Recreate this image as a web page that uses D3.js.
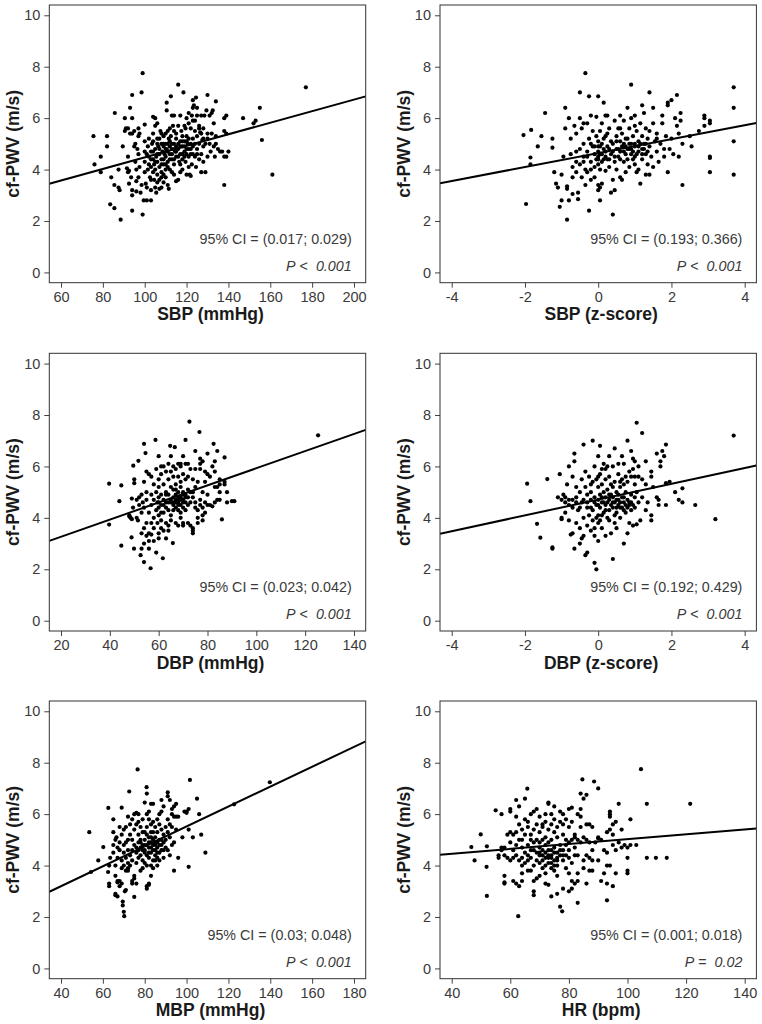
<!DOCTYPE html>
<html><head><meta charset="utf-8">
<script src="https://cdn.jsdelivr.net/npm/d3@7"></script>
<style>body{margin:0;background:#fff}svg{display:block}text{font-family:"Liberation Sans",Arial,sans-serif}</style>
</head><body><svg id="c" width="762" height="1024"></svg>
<script>
// ---------- data ----------
const yTicks = [0, 2, 4, 6, 8, 10];
const yLim = [0, 10];
const yTitle = "cf-PWV (m/s)";
const xTitles = ["SBP (mmHg)", "SBP (z-score)", "DBP (mmHg)", "DBP (z-score)", "MBP (mmHg)", "HR (bpm)"];
const xLims = [[60, 200], [-4, 4], [20, 140], [-4, 4], [40, 180], [40, 140]];
const sbpTicks = [60, 80, 100, 120, 140, 160, 180, 200];
const zTicks = [-4, -2, 0, 2, 4];
const dbpTicks = [20, 40, 60, 80, 100, 120, 140];
const mbpTicks = [40, 60, 80, 100, 120, 140, 160, 180];
const hrTicks = [40, 60, 80, 100, 120, 140];
const ciTexts = ["95% CI = (0.017; 0.029)", "95% CI = (0.193; 0.366)", "95% CI = (0.023; 0.042)",
                 "95% CI = (0.192; 0.429)", "95% CI = (0.03; 0.048)", "95% CI = (0.001; 0.018)"];
const pOps = ["<", "<", "<", "<", "<", "="];
const pValues = ["0.001", "0.001", "0.001", "0.001", "0.001", "0.02"];
const fitIntercepts = [2.229, 4.64, 2.60, 4.71, 1.65, 4.08];
const fitSlopes = [0.02246, 0.271, 0.0333, 0.307, 0.0387, 0.00946];

const sbpPoints = [[75.5,5.3],[76,4.2],[79,4.5],[79,3.9],[82,5.3],[82,4.9],[84,3.7],[83.5,2.65],[85.5,2.5],[85.7,6.2],[85.5,3.4],[87.5,3.3],[88,3.2],[87.5,4.0],[88.5,2.05],[89.5,4.9],[90.5,6.0],[90.5,5.5],[91,5.6],[92,5.6],[93,6.4],[94,6.9],[94,6.0],[91.5,4.05],[92,4.5],[92.5,3.45],[92.5,3.95],[92,3.9],[93.5,3.7],[94,3.2],[94,3.0],[94,2.4],[93,5.4],[94,5.4],
[95,5.5],[95.5,5.0],[95,4.9],[95.5,4.3],[96,3.55],[96,3.15],[96,4.0],[96.5,4.8],[97,5.3],[97,5.6],[97.5,5.4],[97,4.6],[97.5,4.1],[97,3.7],[98,3.1],[98.5,3.4],[98.5,7.0],[99,7.75],[99,2.25],[99.5,2.8],[100,5.75],[100,5.1],[100,4.7],[100,4.3],[100,3.9],[100.5,3.45],[101,2.8],[101,3.3],[101.5,4.0],[101.5,4.9],[102,5.2],[102,4.5],[102.5,3.7],[103,2.8],[103,3.2],[103,4.1],[103,4.4],[103.5,5.0],[104,6.05],[104,5.4],[104,4.7],[104.5,4.2],[104.5,3.6],[105,6.0],[105,5.7],[105,4.8],[105,4.0],[105,3.3],[105.5,3.1],[105.5,4.5],
[106,5.8],[106,5.2],[106,4.3],[106,3.8],[106.5,4.9],[107,4.6],[107,4.1],[107,3.6],[107,3.25],[107.5,5.5],[108,5.0],[108,4.4],[108,3.9],[108,3.7],[108.5,4.7],[109,5.3],[109,4.2],[109,3.8],[109,4.9],[109.5,4.6],[110,5.4],[110,5.0],[110,4.5],[110,4.0],[110,3.7],[110.5,6.6],[110.5,6.3],[110.5,4.8],[111,5.5],[111,4.7],[111,4.3],[111,3.4],[111.5,3.25],[111.5,5.2],[112,5.6],[112,4.9],[112,4.4],[112,4.0],[112.5,6.85],[112.5,5.3],[113,6.1],[113,4.8],[113,4.6],[113,3.9],[113.5,5.7],[114,6.1],[114,5.5],[114,5.0],[114,4.2],[114.5,4.7],[115,5.2],[115,3.55],[115,4.5],[115,5.4],
[116,7.3],[116,5.7],[116,5.0],[116,4.8],[116,3.6],[116.5,4.3],[117,5.1],[117,4.6],[117,6.1],[117.5,5.5],[118,4.9],[118,4.4],[118,4.0],[118,5.3],[118.5,7.0],[119,5.7],[119,5.1],[119,4.7],[119.5,5.6],[119.5,4.3],[120,6.0],[120,5.3],[120,4.8],[120,3.8],[120.5,5.0],[121,6.2],[121,5.8],[121,5.2],[121,4.5],[121.5,3.8],[122,5.6],[122,5.0],[122,4.6],[122,3.75],[122.5,6.1],[122.5,4.2],[123,6.4],[123,5.9],[123,5.2],[123,4.9],[123.5,6.5],[124,5.9],[124,4.5],[124,5.5],[124.5,4.1],[124.5,6.8],[125,6.1],[125,5.3],[125,4.8],
[126,5.6],[126,4.4],[126,5.7],[126.5,5.45],[127,5.4],[127,4.6],[127,3.9],[127.5,5.15],[128,5.6],[128,4.9],[128,4.3],[128.5,6.1],[129,5.0],[129,3.9],[129.5,6.3],[130,6.9],[130,5.4],[130,4.5],[131,6.1],[131,5.0],[131.5,4.7],[132,6.2],[132,5.4],[132.5,6.3],[133,5.8],[133,4.9],[133.5,4.5],[134,6.65],[134,5.3],[134,5.0],[135,4.8],[136,4.7],[137,4.7],[138,6.0],[138,5.5],[138,4.5],[138,3.4],[139,6.1],[139,5.4],[139,4.5],[140,4.7],
[147,6.0],[152,5.8],[153,5.9],[155,6.4],[156,5.15],[161,3.8],[177,7.2],
[101,4.6],[102,4.2],[103,4.7],[104,5.1],[104,4.4],[105,4.3],[106,4.6],[106,5.0],[107,4.8],[107,5.2],[108,4.2],[108,5.4],[109,4.4],[109,5.0],[110,4.2],[110,4.8],[111,5.0],[111,4.1],[112,4.6],[112,5.1],[113,4.4],[113,5.0],[114,4.8],[114,4.4],[115,4.7],[115,4.9],[116,4.5],[117,4.9],[117,4.2],[118,4.6],[118,5.1],[119,4.9],[119,4.5],[120,4.6],[120,5.1],[121,4.8],[122,4.8],[123,4.6],[124,5.0],[125,4.6],[103,3.6],[106,3.5],[108,3.3],[104,3.9],[109,3.5],[114,3.8],[117,3.9],[121,4.1],[126,5.0],[128,5.2],[130,5.2],[127,6.1],[125,6.4],[123,6.7]];

const sbpZPoints = [[-2.04,5.34],[-1.83,5.54],[-1.85,4.47],[-1.85,4.2],[-1.97,2.66],[-1.65,4.9],[-1.55,5.3],[-1.45,6.2],[-1.25,5.2],[-1.25,4.85],[-1.2,3.9],[-1.15,3.45],[-1.1,3.3],[-1.05,2.55],[-1.0,2.8],[-1.0,3.8],[-0.95,4.5],[-0.9,6.4],[-0.9,5.6],[-0.85,3.35],[-0.85,3.25],[-0.85,2.05],[-0.8,2.8],[-0.8,6.0],[-0.75,5.2],[-0.75,4.6],[-0.7,3.7],[-0.7,3.05],[-0.65,5.7],[-0.6,4.3],[-0.6,3.9],[-0.6,5.4],[-0.55,3.1],[-0.55,2.85],[-0.5,7.0],[-0.5,6.0],[-0.5,4.8],[-0.5,4.2],[-0.45,3.7],[-0.45,5.6],
[-0.4,5.8],[-0.4,5.0],[-0.4,4.5],[-0.35,7.75],[-0.35,4.0],[-0.35,3.4],[-0.3,5.8],[-0.3,4.7],[-0.3,3.9],[-0.25,2.4],[-0.25,6.85],[-0.25,5.2],[-0.2,4.3],[-0.2,3.6],[-0.2,6.1],[-0.15,4.9],[-0.15,5.5],[-0.1,4.6],[-0.1,4.1],[-0.1,3.7],[-0.05,5.3],[-0.05,4.4],[-0.05,6.05],
[0,6.85],[0,5.1],[0,4.7],[0,4.5],[0,4.2],[0,3.4],[0,3.2],[0.05,3.3],[0.05,2.8],[0.05,4.9],[0.05,4.0],[0.05,5.5],[0.1,4.6],[0.1,4.3],[0.1,5.8],[0.1,3.45],[0.15,6.6],[0.15,5.2],[0.15,4.8],[0.2,4.5],[0.2,3.95],[0.2,6.1],[0.25,5.4],[0.25,4.4],[0.25,6.1],[0.3,4.8],[0.3,4.1],[0.3,5.6],[0.35,3.1],[0.35,4.6],[0.4,2.25],[0.4,5.0],[0.4,3.6],[0.45,5.9],[0.45,4.3],[0.45,3.2],[0.5,5.3],[0.5,4.8],[0.5,4.0],[0.55,5.6],[0.55,4.5],[0.6,6.1],[0.6,5.1],[0.6,4.7],[0.6,3.7],[0.65,3.6],[0.65,5.4],[0.7,5.0],[0.7,4.3],[0.7,5.9],[0.75,4.9],[0.75,4.6],[0.75,3.9],[0.8,6.4],[0.8,5.2],[0.8,4.4],[0.85,5.6],[0.85,4.8],[0.85,4.1],[0.9,7.3],[0.9,5.0],[0.9,4.6],[0.9,6.0],[0.95,5.3],[0.95,4.4],
[1.0,6.1],[1.0,5.7],[1.0,4.9],[1.0,4.2],[1.05,3.9],[1.05,5.5],[1.1,4.7],[1.1,4.0],[1.1,5.1],[1.15,3.45],[1.15,5.8],[1.2,6.5],[1.2,5.3],[1.2,4.8],[1.2,4.4],[1.25,6.2],[1.25,5.0],[1.3,5.6],[1.3,4.6],[1.3,3.8],[1.35,5.2],[1.35,4.2],[1.4,7.0],[1.4,5.5],[1.4,4.9],[1.4,3.8],[1.45,4.5],[1.5,5.8],[1.5,6.4],[1.5,4.1],[1.55,5.1],[1.6,4.7],[1.6,5.4],[1.65,4.3],[1.7,5.0],[1.75,6.1],[1.75,5.8],[1.8,4.8],[1.8,4.5],[1.85,5.3],[1.9,6.6],[1.9,6.5],[1.9,3.9],[1.95,4.8],[2.0,6.7],[2.0,5.2],[2.05,4.6],[2.1,6.0],[2.15,6.9],[2.15,5.7],[2.2,5.4],[2.2,4.5],[2.25,6.2],[2.25,5.9],[2.3,3.4],[2.3,5.0],[2.5,5.3],[2.55,4.9],[2.75,5.5],[2.9,6.1],[2.9,6.0],[2.9,5.7],[3.05,5.9],[3.05,5.8],[3.05,4.5],[3.05,4.45],[3.05,3.9],[3.7,7.2],[3.7,6.4],[3.7,5.1],[3.7,3.8],
[-0.3,4.5],[-0.2,4.0],[-0.1,4.9],[0,4.4],[0,4.9],[0.05,4.6],[0.1,5.0],[0.15,4.4],[0.2,4.7],[0.25,4.9],[0.3,4.4],[0.35,5.1],[0.4,4.7],[0.45,4.5],[0.5,5.1],[0.55,4.8],[0.6,4.4],[0.65,4.9],[0.7,4.7],[0.75,5.2],[0.8,4.8],[0.85,5.0],[0.9,4.8],[0.95,4.7],[1.0,5.0],[1.05,4.6],[1.1,4.9],[1.15,5.0],[1.2,4.6],[1.25,4.8],[1.3,5.0],[1.35,4.7],[-0.6,4.7],[-0.4,4.3],[-0.7,4.1],[-0.2,5.0],[0.2,5.3],[0.6,5.6],[1.0,4.5],[1.6,5.2]];

const dbpPoints = [[39.7,5.33],[39.7,3.74],[43.9,4.65],[44.7,5.26],[44.7,2.92],[48,4.1],[48,4.05],[48.5,4.0],[49,3.95],[48.9,3.24],[49,4.75],[49.5,4.4],[49.6,6.03],[50,5.5],[50,5.35],[49.9,2.8],[51,4.0],[51,4.7],[51.5,3.9],[51.7,6.22],[52,4.8],[52,4.5],[52.6,2.55],[53,2.8],[53,3.4],[53,4.2],[53,4.9],[53.5,4.6],[54,6.88],[54,2.28],[54,3.0],[54,3.6],[54,4.4],[54,5.4],[54.6,6.52],[55,3.3],[55,3.8],[55,4.7],[55,5.0],[55,5.8],[56,5.7],[56,4.2],[56,3.4],[56,3.1],[56,2.8],[56.7,2.04],[57,5.6],[57,4.9],[57,4.5],[57,3.8],[57,3.35],[58,5.3],[58,4.0],[58,3.6],[58,3.1],[58,4.7],[58.7,7.03],[59,5.9],[59,5.0],[59,4.3],[59,2.65],[59.5,3.8],[59.5,4.6],
[60,6.4],[60,5.5],[60,5.2],[60,4.8],[60,4.4],[60,4.1],[60,3.4],[60,3.2],[61,6.0],[61,5.7],[61,4.9],[61,4.5],[61,3.9],[61,3.6],[62,6.0],[62,5.3],[62,4.7],[62,4.2],[62,3.5],[61.7,2.43],[63,5.8],[63,5.0],[63,4.6],[63,4.4],[63,3.8],[63,3.2],[64,6.1],[64,5.5],[64,4.9],[64,4.3],[64,3.7],[64,3.5],[64.7,6.8],[65,6.4],[65,5.2],[65,4.7],[65,4.1],[65,3.9],[65,5.8],[66,6.0],[66,5.6],[66,4.5],[65.8,3.02],[66,4.8],[66.6,6.75],[67,5.9],[67,5.3],[67,4.9],[67,4.4],[67,3.8],[67,4.7],[68,6.1],[68,5.6],[68,5.0],[68,4.6],[68,4.3],[68,3.7],[69,6.0],[69,5.4],[69,4.8],[69,4.5],[69,4.2],[69,4.0],[69,6.1],
[70,6.4],[70,5.7],[70,5.0],[70,4.7],[70,4.4],[70,3.8],[70,3.7],[71,7.03],[71,6.1],[71,5.5],[71,4.9],[71,4.6],[71,4.3],[72,5.6],[72,5.1],[72,4.5],[72,3.8],[72,6.1],[72.6,7.74],[73,5.9],[73,5.0],[73,4.6],[73,3.7],[74,5.5],[74,4.8],[74,3.4],[74,3.5],[74,3.6],[74,5.0],[75,6.6],[75,5.9],[75,4.4],[75,4.6],[75,5.2],[76,5.4],[76,4.3],[76,4.0],[76,3.8],[76.7,7.34],[77,6.3],[77,6.1],[77,5.9],[77,4.7],[77,4.5],[78,6.2],[78,5.0],[78,4.4],[78,3.9],[78,4.1],[79,5.8],[79,5.4],[79,4.6],[79,4.2],
[80,6.5],[80,5.7],[80,4.9],[80,4.5],[81,5.6],[81,4.5],[82,6.0],[82,4.45],[82.5,6.88],[83,6.2],[83,5.2],[83,4.6],[83,5.8],[84,5.2],[84,4.7],[84,6.6],[85,5.5],[85,5.3],[85,4.7],[85,5.0],[85.9,3.94],[87,6.35],[87,5.4],[87,5.3],[88,5.0],[88,4.6],[90,4.65],[91,4.65],[125.3,7.21],
[65,4.6],[66,4.6],[67,4.6],[68,4.7],[68,4.8],[69,4.7],[70,4.6],[66,4.3],[64,4.6],[62,4.5],[60,4.6],[63,4.9],[67,5.1],[69,5.2],[71,4.8],[72,4.8],[70,4.9],[68,4.5],[66,5.1],[61,4.2]];

const dbpZPoints = [[-1.94,5.33],[-1.85,4.65],[-1.67,3.77],[-1.58,3.23],[-1.39,5.51],[-1.25,2.85],[-1.25,2.8],[-1.1,4.8],[-1.05,5.7],[-1.0,4.0],[-1.0,3.95],[-0.95,4.9],[-0.9,4.6],[-0.9,4.2],[-0.85,5.3],[-0.8,4.7],[-0.8,3.9],[-0.8,6.0],[-0.75,3.35],[-0.7,5.6],[-0.7,4.4],[-0.7,3.4],[-0.65,6.5],[-0.65,6.2],[-0.65,2.8],[-0.6,5.2],[-0.6,4.8],[-0.6,3.8],[-0.55,4.3],[-0.5,5.0],[-0.5,3.6],[-0.5,3.0],[-0.45,5.5],[-0.45,4.6],[-0.45,3.2],[-0.4,6.85],[-0.4,4.0],[-0.4,3.3],[-0.35,5.8],[-0.35,5.2],[-0.35,2.55],[-0.3,4.9],[-0.3,4.4],[-0.3,3.7],[-0.3,2.65],[-0.25,5.6],[-0.25,4.1],[-0.2,5.0],[-0.2,4.7],[-0.2,3.5],[-0.15,7.0],[-0.15,5.4],[-0.15,4.3],[-0.15,3.9],[-0.1,2.25],[-0.1,6.0],[-0.1,4.8],[-0.1,3.6],[-0.1,3.3],[-0.05,2.0],[-0.05,5.5],[-0.05,4.5],[-0.05,4.0],
[0,6.4],[0,5.2],[0,4.7],[0,4.1],[0,3.8],[0,3.1],[0.05,6.8],[0.05,5.7],[0.05,4.9],[0.05,4.4],[0.05,3.9],[0.1,5.9],[0.1,5.3],[0.1,4.6],[0.1,3.6],[0.15,6.1],[0.15,5.0],[0.15,4.2],[0.2,5.5],[0.2,4.8],[0.2,4.5],[0.2,3.3],[0.25,6.0],[0.25,5.1],[0.25,4.0],[0.3,6.4],[0.3,5.6],[0.3,4.7],[0.3,4.3],[0.35,5.3],[0.35,4.9],[0.35,3.4],[0.4,6.0],[0.4,4.6],[0.4,4.4],[0.4,2.4],[0.45,6.7],[0.45,5.4],[0.45,4.1],[0.45,3.8],[0.5,5.0],[0.5,4.7],[0.5,4.2],[0.55,6.1],[0.55,5.7],[0.55,4.9],[0.55,4.5],[0.6,5.2],[0.6,4.4],[0.6,4.0],[0.65,6.4],[0.65,5.5],[0.65,4.8],[0.7,3.0],[0.7,6.1],[0.7,4.6],[0.7,4.3],[0.75,5.6],[0.75,5.0],[0.75,4.2],[0.8,7.0],[0.8,5.4],[0.8,4.7],[0.8,3.4],[0.85,5.8],[0.85,4.5],[0.85,3.8],[0.9,6.6],[0.9,5.6],[0.9,4.9],[0.9,4.3],[0.95,6.3],[0.95,5.9],[0.95,3.7],
[1.0,6.2],[1.0,5.3],[1.0,4.4],[1.05,7.7],[1.05,5.0],[1.05,3.75],[1.1,6.0],[1.1,5.6],[1.1,4.6],[1.15,3.9],[1.2,7.3],[1.2,5.5],[1.2,4.8],[1.3,6.2],[1.3,5.3],[1.3,4.3],[1.35,4.6],[1.45,5.8],[1.45,5.6],[1.45,4.1],[1.45,3.9],[1.5,5.2],[1.6,6.5],[1.6,4.8],[1.65,4.7],[1.65,4.5],[1.7,6.2],[1.7,6.0],[1.75,6.6],[1.8,6.4],[1.85,6.85],[1.85,5.35],[1.85,4.5],[1.95,5.4],[2.1,5.0],[2.2,4.7],[2.3,4.6],[2.3,5.15],[2.65,4.5],[3.2,3.95],[3.7,7.2],
[-0.6,4.6],[-0.4,4.7],[-0.3,4.6],[-0.2,4.4],[-0.1,4.6],[0,4.5],[0.1,4.8],[0.15,4.6],[0.2,4.3],[0.25,4.6],[0.3,4.9],[0.35,4.5],[0.4,4.8],[0.45,4.6],[0.5,4.4],[0.55,4.7],[0.6,4.6],[0.65,4.4],[0.7,4.8],[0.75,4.5],[0.8,4.4],[0.85,4.6],[0.9,4.6],[0.95,4.5],[1.0,4.8],[-0.5,4.4],[-0.8,4.5],[-0.9,4.8],[-1.0,4.7],[-0.7,4.7],[0.6,5.4],[0.4,5.2],[0.2,5.9],[0.0,5.6],[-0.2,5.3],[0.7,5.3],[1.0,5.6],[0.5,3.6],[0.3,3.9],[0.1,4.1]];

const mbpPoints = [[53.5,5.3],[54.3,3.75],[57.8,4.2],[60.2,4.72],[62.6,6.24],[62.5,3.75],[63,3.3],[63,3.2],[63,4.0],[63.5,4.3],[65,5.8],[65,4.8],[65,4.5],[65,5.3],[66,2.9],[66,2.85],[66,3.6],[66,4.0],[66,5.0],[66.5,5.1],[67,2.8],[67,3.4],[67,3.35],[67,4.3],[67,4.7],[68,3.4],[68,3.2],[68,4.6],[68,5.5],[68,4.9],[69,6.25],[69,4.2],[69,3.9],[69,3.3],[69,5.2],[69.5,2.6],[69.5,2.45],
[70,4.5],[70,4.0],[70,2.2],[70.2,2.03],[70,5.4],[70,4.8],[70.5,3.0],[71,3.05],[71,3.8],[71,4.3],[71,5.5],[71,4.9],[72,3.9],[72,4.1],[72,4.6],[72,5.0],[72,5.9],[72,3.8],[72.6,6.88],[73,5.6],[73,4.4],[73,4.0],[73,5.2],[74,4.6],[74,3.3],[74,3.4],[74,4.2],[74,5.0],[74,5.8],[75,2.78],[75,3.5],[75,3.6],[75,4.8],[75,5.4],[75,6.0],[76,3.3],[76,4.1],[76,4.5],[76,5.6],[76,6.05],[76.6,7.74],[77,4.3],[77,4.9],[77,5.2],[77,5.7],[77,6.0],[78,4.4],[78,3.8],[78,4.7],[78,5.0],[78,5.5],[79,4.6],[79,5.3],[79,5.8],[79,4.2],[79,3.9],
[80,6.45],[80,5.0],[80,4.5],[80,4.8],[80,4.1],[80.9,7.05],[81,6.8],[81,5.5],[81,4.4],[81,3.2],[81,3.1],[81,4.0],[81,5.2],[81,6.0],[82,6.1],[82,5.1],[82,4.7],[82,3.3],[82,3.25],[82,4.3],[82,5.8],[83,6.4],[83,5.6],[83,4.9],[83,4.5],[83,4.0],[83,3.6],[83,5.3],[84,6.4],[84,5.0],[84,4.6],[84,4.2],[84,3.9],[84,5.7],[85,5.5],[85,4.8],[85,4.4],[85,4.9],[85,5.1],[86,5.8],[86,5.3],[86,4.7],[86,4.3],[86,4.0],[87,6.0],[87,5.6],[87,5.0],[87,4.5],[87,4.2],[88,6.55],[88,6.1],[88,5.4],[88,4.8],[88,4.6],[89,6.3],[89,5.2],[89,4.9],[89,4.3],
[90,5.5],[90,4.7],[90,5.0],[91,6.85],[91,6.7],[91,5.8],[91,5.3],[91,4.6],[92,6.55],[92,5.6],[92,4.4],[92,5.1],[93,6.2],[93,6.0],[93,5.5],[93,4.8],[94,6.3],[94,5.9],[94,3.8],[94,4.9],[95,6.4],[95,5.9],[95,5.4],[96,4.3],[96,5.9],[98,5.1],[99,6.1],[100,6.1],[100,6.05],[101,3.95],[101,5.4],[101,6.2],[101.6,7.33],[103,5.1],[105,6.6],[106,6.0],[107,5.2],[109,4.5],[122.7,6.38],[139.8,7.24],
[80,4.6],[81,4.8],[82,4.5],[83,4.7],[84,4.8],[85,4.6],[86,4.9],[87,4.8],[88,5.0],[82,4.9],[83,5.1],[84,5.3],[79,4.8],[78,4.9],[77,4.6],[76,4.7],[85,4.2],[86,4.5],[89,4.6],[80,5.3]];

const hrPoints = [[46.7,4.72],[47.8,4.2],[49.9,5.21],[52,4.75],[51.9,3.95],[52,2.82],[55,6.15],[56,4.4],[56,4.3],[57,6.0],[57,4.7],[57,4.6],[58,3.6],[58,3.35],[58,3.3],[58,4.4],[58,4.7],[59,5.2],[59,4.3],
[60,6.2],[60,6.1],[60,5.3],[60,4.2],[60,4.9],[61,5.2],[61,3.4],[61,4.3],[61,4.6],[62,6.55],[62,5.9],[62,5.3],[62,4.4],[62,3.3],[62,4.8],[63,6.3],[63,5.6],[63,5.0],[63,4.2],[63,3.2],[62.7,2.03],[64,5.4],[64,4.7],[64,3.7],[64,3.4],[64,4.0],[64,5.0],[65,6.6],[65,5.2],[65,4.5],[65,4.1],[65,5.8],[65.8,6.99],[66,5.7],[66,5.5],[66,4.8],[66,4.2],[66,3.8],[67,6.0],[67,5.2],[67,4.6],[67,4.3],[67,3.8],[67,5.0],[68,6.1],[68,5.4],[68,4.9],[68,3.4],[68,3.0],[68,2.85],[68,4.0],[69,6.2],[69,5.6],[69,5.0],[69,4.5],[69,3.5],[69,4.2],
[70,5.9],[70,5.3],[70,4.7],[70,4.4],[70,3.6],[70,4.9],[71,5.5],[71,5.0],[71,4.2],[71,3.9],[71,4.6],[71,5.6],[72,6.0],[72,5.7],[72,5.1],[72,4.8],[72,4.0],[72,3.7],[72,3.3],[73,6.45],[73,6.4],[73,5.4],[73,4.6],[73,4.3],[73,3.25],[73,4.9],[74,6.0],[74,5.6],[74,5.0],[74,4.4],[74,4.1],[74,3.9],[74,2.8],[75,6.3],[75,5.3],[75,4.7],[75,4.2],[75,3.8],[75,5.8],[76,5.5],[76,5.1],[76,4.5],[76,4.0],[76,3.6],[76,2.9],[77,6.1],[77,5.7],[77,4.8],[77,4.4],[77,2.4],[78,6.0],[78,5.6],[78,5.2],[78,4.6],[78,4.2],[77.7,2.22],[78,3.1],[79,5.8],[79,5.0],[79,4.4],[79,3.9],[79,4.8],
[80,6.2],[80,5.5],[80,4.9],[80,4.3],[80,3.0],[80,3.7],[81,6.25],[81,5.7],[81,5.0],[81,4.1],[81,3.4],[81,3.1],[82,5.2],[82,4.7],[82,5.1],[82,3.3],[83,5.0],[83,4.4],[83,3.4],[83,2.55],[83,6.0],[83,3.7],[84,6.8],[84,5.9],[84,5.5],[84,4.9],[84,6.2],[84.6,7.35],[85,6.6],[85,5.1],[85,4.2],[85,3.9],[86,6.75],[86,5.6],[86,4.4],[86,3.3],[86,5.0],[87,5.6],[87,4.9],[87,4.3],[87,3.8],[88,5.5],[88,4.6],[88,3.8],[88,4.2],[88.6,7.27],[89,4.9],[90,7.0],[90,5.1],[90,4.2],[90,5.05],[91,3.4],[91,5.0],[92,4.6],[92,3.7],[93,5.3],[93,4.5],[93,2.65],[93,4.0],[93,3.3],[94,6.1],[94,6.0],[94,5.9],[94,5.4],[94,4.0],[95,5.6],[95,4.8],[95,3.2],[95,5.2],[96,4.6],[96,3.7],[96,5.7],[97,6.4],[97,4.9],[98,5.4],[98,4.7],[99,4.8],
[100,4.3],[100,3.8],[100,3.7],[100,4.7],[101,5.8],[101,4.8],[103,4.8],[104.6,7.75],[106.6,6.4],[106.6,4.3],[109.7,4.3],[113.4,4.3],[121.4,6.4],
[70,4.5],[72,4.5],[73,4.4],[74,4.6],[74,4.3],[75,4.5],[76,4.3],[73,4.1],[72,4.3],[71,4.4],[75,4.0],[76,4.2],[77,4.6],[78,4.4],[68,4.6],[66,4.4],[64,4.3],[80,4.6],[82,4.4],[70,4.1]];

const pointSets = [sbpPoints, sbpZPoints, dbpPoints, dbpZPoints, mbpPoints, hrPoints];
const xTickSets = [sbpTicks, zTicks, dbpTicks, zTicks, mbpTicks, hrTicks];

// ---------- layout ----------
const colLeft = [49.3, 440];
const rowTop = [5, 353.3, 701];
const pw = 316.4, ph = 277.7;
const svg = d3.select("#c");
svg.append("rect").attr("width", 762).attr("height", 1024).attr("fill", "#fff");

const expand = (lim) => { const r = lim[1] - lim[0]; return [lim[0] - 0.04 * r, lim[1] + 0.04 * r]; };

pointSets.forEach((pts, i) => {
  const col = i % 2, row = Math.floor(i / 2);
  const L = colLeft[col], T = rowTop[row];
  const xd = expand(xLims[i]), yd = expand(yLim);
  const x = d3.scaleLinear().domain(xd).range([L, L + pw]);
  const y = d3.scaleLinear().domain(yd).range([T + ph, T]);
  const g = svg.append("g");

  const cid = "clip" + i;
  g.append("clipPath").attr("id", cid).append("rect")
    .attr("x", L).attr("y", T).attr("width", pw).attr("height", ph);

  const xa = g.append("g").attr("transform", `translate(0,${T + ph})`)
    .call(d3.axisBottom(x).tickValues(xTickSets[i]).tickSize(5).tickPadding(3).tickFormat(d => String(d)));
  const ya = g.append("g").attr("transform", `translate(${L},0)`)
    .call(d3.axisLeft(y).tickValues(yTicks).tickSize(5).tickPadding(4).tickFormat(d => String(d)));
  [xa, ya].forEach(a => {
    a.select(".domain").remove();
    a.selectAll("line").attr("stroke", "#444").attr("stroke-width", 1);
    a.selectAll("text").attr("fill", "#3a3a3a").style("font-size", "14.5px")
      .style("font-family", '"Liberation Sans", Arial, sans-serif');
  });
  xa.selectAll("text").attr("dy", "0.75em");

  g.append("g").selectAll("circle").data(pts).join("circle")
    .attr("cx", d => x(d[0])).attr("cy", d => y(d[1])).attr("r", 2.1).attr("fill", "#000");

  g.append("line").attr("clip-path", `url(#${cid})`)
    .attr("x1", x(xd[0])).attr("y1", y(fitIntercepts[i] + fitSlopes[i] * xd[0]))
    .attr("x2", x(xd[1])).attr("y2", y(fitIntercepts[i] + fitSlopes[i] * xd[1]))
    .attr("stroke", "#000").attr("stroke-width", 2);

  g.append("rect").attr("x", L).attr("y", T).attr("width", pw).attr("height", ph)
    .attr("fill", "none").attr("stroke", "#333").attr("stroke-width", 1);

  g.append("text").attr("x", L + pw - 14).attr("y", T + 238.5).attr("text-anchor", "end")
    .attr("fill", "#3a3a3a").style("font-size", "14.3px").text(ciTexts[i]);
  const pt = g.append("text").attr("x", L + pw - 14).attr("y", T + 265.5).attr("text-anchor", "end")
    .attr("fill", "#3a3a3a").style("font-size", "14.3px").style("white-space", "pre");
  pt.append("tspan").style("font-style", "italic").text("P");
  pt.append("tspan").text(" " + pOps[i] + "  ");
  pt.append("tspan").style("font-style", "italic").text(pValues[i]);

  g.append("text").attr("x", L + pw / 2 + 3).attr("y", T + ph + 37.5).attr("text-anchor", "middle")
    .attr("fill", "#1a1a1a").style("font-size", "17.5px").style("font-weight", "bold").text(xTitles[i]);
  g.append("text").attr("transform", `translate(${L - 30},${T + ph / 2}) rotate(-90)`)
    .attr("text-anchor", "middle").attr("fill", "#1a1a1a")
    .style("font-size", "17.5px").style("font-weight", "bold").text(yTitle);
});
</script></body></html>
